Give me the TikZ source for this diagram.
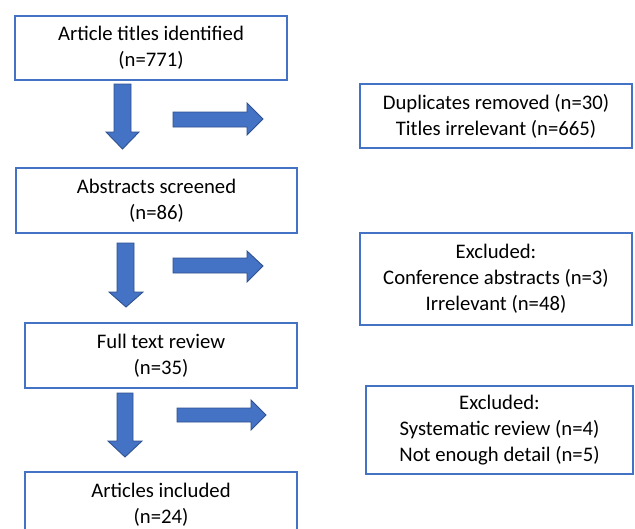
\documentclass[tikz,border=0pt]{standalone}
\usepackage{fontspec}
\setmainfont{Carlito}
\definecolor{boxblue}{HTML}{4472C4}
\definecolor{arrowfill}{HTML}{4472C4}
\definecolor{arrowline}{HTML}{2F528F}
\begin{document}
\begin{tikzpicture}[x=1pt,y=-1pt,
  flowbox/.style={draw=boxblue,line width=1.3pt,fill=white,align=center,
    font=\fontsize{20.7}{26}\selectfont,inner sep=0pt,text=black},
  blockarrow/.style={fill=arrowfill,draw=arrowline,line width=0.9pt,line join=miter}]
\useasboundingbox (0,0) rectangle (635,528);
\fill[white] (0,0) rectangle (635,528);
\node[flowbox,minimum width=272pt,minimum height=64pt] (b1) at (151,48) {Article titles identified\\(n=771)};
\node[flowbox,minimum width=272pt,minimum height=64pt] (b2) at (496,116) {Duplicates removed (n=30)\\Titles irrelevant (n=665)};
\node[flowbox,minimum width=281pt,minimum height=65pt] (b3) at (156.5,200.5) {Abstracts screened\\(n=86)};
\node[flowbox,minimum width=272pt,minimum height=92pt] (b4) at (496,279) {Excluded:\\Conference abstracts (n=3)\\Irrelevant (n=48)};
\node[flowbox,minimum width=272pt,minimum height=65pt] (b5) at (161,355.5) {Full text review\\(n=35)};
\node[flowbox,minimum width=267pt,minimum height=88pt] (b6) at (499.5,430) {Excluded:\\Systematic review (n=4)\\Not enough detail (n=5)};
\node[flowbox,minimum width=272pt,minimum height=66pt] (b7) at (161,505) {Articles included\\(n=24)};
% down arrows
\path[blockarrow] (114,84) -- (131,84) -- (131,132) -- (139,132) -- (122.5,149) -- (106,132) -- (114,132) -- cycle;
\path[blockarrow] (117,243) -- (134,243) -- (134,292) -- (143,292) -- (126,307) -- (109,292) -- (117,292) -- cycle;
\path[blockarrow] (117,393) -- (133,393) -- (133,441) -- (142,441) -- (125,457) -- (108,441) -- (117,441) -- cycle;
% right arrows
\path[blockarrow] (173,112) -- (247,112) -- (247,103) -- (263,119) -- (247,135) -- (247,127) -- (173,127) -- cycle;
\path[blockarrow] (173,258) -- (247,258) -- (247,251) -- (263,266) -- (247,282) -- (247,273) -- (173,273) -- cycle;
\path[blockarrow] (177,408) -- (251,408) -- (251,400) -- (266,415) -- (251,430) -- (251,422) -- (177,422) -- cycle;
\end{tikzpicture}
\end{document}
